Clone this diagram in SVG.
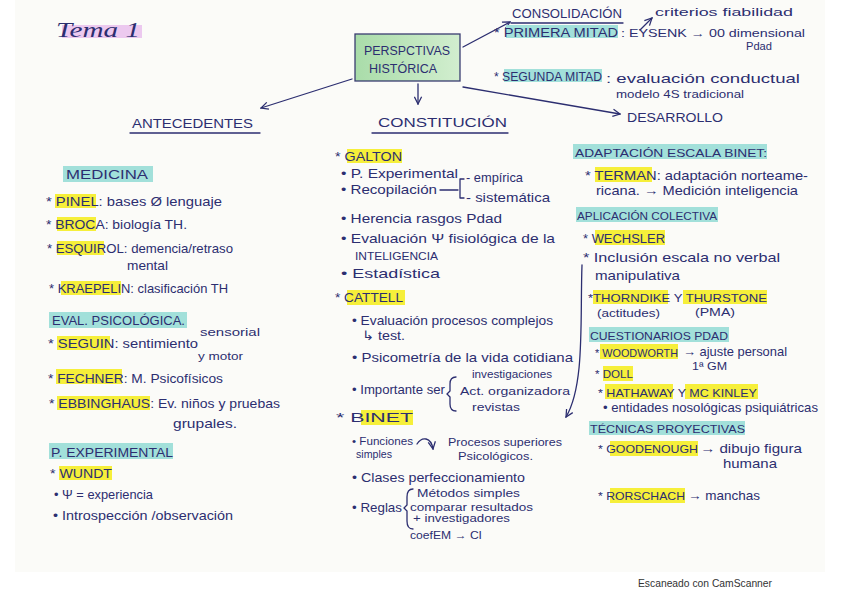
<svg xmlns="http://www.w3.org/2000/svg" width="848" height="599" viewBox="0 0 848 599">
<style>
text{font-family:"Liberation Sans","DejaVu Sans",sans-serif;fill:#2c2e70;font-size:13px}
.u{font-size:12.5px}
.s{font-size:11.5px}
.xs{font-size:10.5px}
.hy{fill:#f6ef3a}
.hc{fill:#a2e0da}
.ln{fill:none;stroke:#2c2e70;stroke-width:1.3;stroke-linecap:round}
.ar{marker-end:url(#ah)}
</style>
<defs>
<marker id="ah" viewBox="0 0 10 10" refX="9" refY="5" markerWidth="9" markerHeight="9" orient="auto" markerUnits="userSpaceOnUse">
<path d="M1,1 L9,5 L1,9" fill="none" stroke="#2c2e70" stroke-width="1.4"/>
</marker>
<linearGradient id="gb" x1="0" y1="0" x2="1" y2="0">
<stop offset="0" stop-color="#a9dca9"/><stop offset="1" stop-color="#d2eecf"/>
</linearGradient>
</defs>
<rect x="0" y="0" width="848" height="599" fill="#ffffff"/>
<rect x="15" y="0" width="810" height="572" fill="#fbfbf8"/>

<g id="title">
<rect x="62" y="25" width="80" height="13" fill="#ecc9ef"/>
<text x="56" y="37" style="font-family:'Liberation Serif',serif;font-style:italic;font-size:22px" textLength="84" lengthAdjust="spacingAndGlyphs">Tema 1</text>
</g>

<g id="perspectivas">
<rect x="355" y="34" width="105" height="47" fill="url(#gb)" stroke="#3a3c70" stroke-width="1.3"/>
<text class="u" x="364" y="55" textLength="86" lengthAdjust="spacingAndGlyphs">PERSPCTIVAS</text>
<text class="u" x="369" y="73" textLength="68" lengthAdjust="spacingAndGlyphs">HISTÓRICA</text>
</g>

<g id="connectors">
<path class="ln ar" d="M352,79 L261,108"/>
<path class="ln ar" d="M418,84 L418,104"/>
<path class="ln ar" d="M463,87 L620,114"/>
<path class="ln ar" d="M463,47 L510,22"/>
<path class="ln ar" d="M640,30 L652,18"/>
<path class="ln ar" d="M582,265 C580,320 585,385 566,417"/>
<path class="ln ar" d="M417,444 C422,436 431,437 433,449"/>
</g>

<g id="consolidacion">
<text class="u" x="512" y="18" textLength="110" lengthAdjust="spacingAndGlyphs">CONSOLIDACIÓN</text>
<path class="ln" d="M511,23 H623"/>
<text class="s" x="655" y="16" textLength="138" lengthAdjust="spacingAndGlyphs">criterios fiabilidad</text>
<rect class="hc" x="506" y="25" width="112" height="13"/>
<text class="u" x="494" y="37" textLength="124" lengthAdjust="spacingAndGlyphs">* PRIMERA MITAD</text>
<text class="s" x="621" y="37" textLength="184" lengthAdjust="spacingAndGlyphs">: EYSENK → 00 dimensional</text>
<text class="s" x="746" y="50" textLength="26" lengthAdjust="spacingAndGlyphs">Pdad</text>
<rect class="hc" x="504" y="69" width="98" height="13"/>
<text class="u" x="494" y="81" textLength="108" lengthAdjust="spacingAndGlyphs">* SEGUNDA MITAD</text>
<text x="606" y="83" textLength="194" lengthAdjust="spacingAndGlyphs">: evaluación conductual</text>
<text class="s" x="616" y="98" textLength="128" lengthAdjust="spacingAndGlyphs">modelo 4S tradicional</text>
</g>

<g id="antecedentes">
<text class="u" x="132" y="128" textLength="121" lengthAdjust="spacingAndGlyphs">ANTECEDENTES</text>
<path class="ln" d="M130,133 H260"/>
<rect class="hc" x="63" y="166" width="90" height="16"/>
<text class="u" x="66" y="179" textLength="82" lengthAdjust="spacingAndGlyphs">MEDICINA</text>
<rect class="hy" x="55" y="194" width="41" height="14"/>
<text x="46" y="206" textLength="176" lengthAdjust="spacingAndGlyphs">* PINEL: bases Ø lenguaje</text>
<rect class="hy" x="57" y="217" width="39" height="14"/>
<text x="46" y="229" textLength="141" lengthAdjust="spacingAndGlyphs">* BROCA: biología TH.</text>
<rect class="hy" x="57" y="241" width="47" height="14"/>
<text x="47" y="253" textLength="186" lengthAdjust="spacingAndGlyphs">* ESQUIROL: demencia/retraso</text>
<text x="127" y="270" textLength="41" lengthAdjust="spacingAndGlyphs">mental</text>
<rect class="hy" x="61" y="281" width="60" height="14"/>
<text x="49" y="293" textLength="179" lengthAdjust="spacingAndGlyphs">* KRAEPELIN: clasificación TH</text>
<rect class="hc" x="49" y="312" width="138" height="16"/>
<text class="u" x="52" y="325" textLength="133" lengthAdjust="spacingAndGlyphs">EVAL. PSICOLÓGICA.</text>
<rect class="hy" x="57" y="336" width="53" height="14"/>
<text x="48" y="348" textLength="150" lengthAdjust="spacingAndGlyphs">* SEGUIN: sentimiento</text>
<text class="s" x="200" y="336" textLength="60" lengthAdjust="spacingAndGlyphs">sensorial</text>
<text class="s" x="198" y="360" textLength="45" lengthAdjust="spacingAndGlyphs">y motor</text>
<rect class="hy" x="56" y="369" width="66" height="15"/>
<text x="48" y="383" textLength="175" lengthAdjust="spacingAndGlyphs">* FECHNER: M. Psicofísicos</text>
<rect class="hy" x="57" y="396" width="93" height="14"/>
<text x="49" y="408" textLength="231" lengthAdjust="spacingAndGlyphs">* EBBINGHAUS: Ev. niños y pruebas</text>
<text x="173" y="428" textLength="64" lengthAdjust="spacingAndGlyphs">grupales.</text>
<rect class="hc" x="49" y="443" width="124" height="16"/>
<text class="u" x="51" y="457" textLength="122" lengthAdjust="spacingAndGlyphs">P. EXPERIMENTAL</text>
<rect class="hy" x="59" y="466" width="53" height="14"/>
<text class="u" x="50" y="478" textLength="62" lengthAdjust="spacingAndGlyphs">* WUNDT</text>
<text x="54" y="499" textLength="99" lengthAdjust="spacingAndGlyphs">• Ψ = experiencia</text>
<text x="53" y="520" textLength="180" lengthAdjust="spacingAndGlyphs">• Introspección /observación</text>
</g>

<g id="constitucion">
<text class="u" x="378" y="127" textLength="129" lengthAdjust="spacingAndGlyphs">CONSTITUCIÓN</text>
<path class="ln" d="M372,133 H508"/>
<rect class="hy" x="347" y="149" width="55" height="14"/>
<text class="u" x="335" y="161" textLength="67" lengthAdjust="spacingAndGlyphs">* GALTON</text>
<text x="341" y="178" textLength="117" lengthAdjust="spacingAndGlyphs">• P. Experimental</text>
<text x="466" y="182" textLength="57" lengthAdjust="spacingAndGlyphs">- empírica</text>
<text x="341" y="194" textLength="96" lengthAdjust="spacingAndGlyphs">• Recopilación</text>
<path class="ln" d="M440,190 H458 M460,179 V198 M460,179 H464 M460,198 H464"/>
<text x="466" y="202" textLength="84" lengthAdjust="spacingAndGlyphs">- sistemática</text>
<text x="341" y="223" textLength="161" lengthAdjust="spacingAndGlyphs">• Herencia rasgos Pdad</text>
<text x="341" y="243" textLength="214" lengthAdjust="spacingAndGlyphs">• Evaluación Ψ fisiológica de la</text>
<text class="s" x="355" y="260" textLength="83" lengthAdjust="spacingAndGlyphs">INTELIGENCIA</text>
<text x="341" y="278" textLength="99" lengthAdjust="spacingAndGlyphs">• Estadística</text>
<rect class="hy" x="347" y="290" width="58" height="15"/>
<text class="u" x="335" y="302" textLength="68" lengthAdjust="spacingAndGlyphs">* CATTELL</text>
<text x="352" y="325" textLength="201" lengthAdjust="spacingAndGlyphs">• Evaluación procesos complejos</text>
<text x="362" y="340" textLength="43" lengthAdjust="spacingAndGlyphs">↳ test.</text>
<text x="352" y="362" textLength="221" lengthAdjust="spacingAndGlyphs">• Psicometría de la vida cotidiana</text>
<text x="352" y="394" textLength="93" lengthAdjust="spacingAndGlyphs">• Importante ser</text>
<path class="ln" d="M456,377 Q450,377 450,384 V391 L447,394 L450,397 V404 Q450,411 456,411"/>
<text class="s" x="472" y="378" textLength="80" lengthAdjust="spacingAndGlyphs">investigaciones</text>
<text class="s" x="460" y="395" textLength="110" lengthAdjust="spacingAndGlyphs">Act. organizadora</text>
<text class="s" x="472" y="411" textLength="48" lengthAdjust="spacingAndGlyphs">revistas</text>
<rect class="hy" x="361" y="410" width="52" height="15"/>
<text class="u" x="336" y="422" textLength="77" lengthAdjust="spacingAndGlyphs">*   BINET</text>
<text class="xs" x="352" y="445" textLength="61" lengthAdjust="spacingAndGlyphs">• Funciones</text>
<text class="xs" x="356" y="458" textLength="36" lengthAdjust="spacingAndGlyphs">simples</text>
<text class="s" x="448" y="446" textLength="114" lengthAdjust="spacingAndGlyphs">Procesos superiores</text>
<text class="s" x="458" y="460" textLength="75" lengthAdjust="spacingAndGlyphs">Psicológicos.</text>
<text x="352" y="482" textLength="173" lengthAdjust="spacingAndGlyphs">• Clases perfeccionamiento</text>
<text class="s" x="417" y="497" textLength="103" lengthAdjust="spacingAndGlyphs">Métodos simples</text>
<text x="352" y="512" textLength="50" lengthAdjust="spacingAndGlyphs">• Reglas</text>
<path class="ln" d="M413,489 Q407,489 407,497 V505 L404,508 L407,511 V521 Q407,529 413,529"/>
<text class="s" x="410" y="511" textLength="123" lengthAdjust="spacingAndGlyphs">comparar resultados</text>
<text class="s" x="413" y="522" textLength="97" lengthAdjust="spacingAndGlyphs">+ investigadores</text>
<text class="s" x="410" y="539" textLength="72" lengthAdjust="spacingAndGlyphs">coefEM → CI</text>
</g>

<g id="desarrollo">
<text x="627" y="122" textLength="96" lengthAdjust="spacingAndGlyphs">DESARROLLO</text>
<rect class="hc" x="573" y="144" width="194" height="15"/>
<text class="s" x="575" y="157" textLength="192" lengthAdjust="spacingAndGlyphs">ADAPTACIÓN ESCALA BINET:</text>
<rect class="hy" x="595" y="167" width="57" height="15"/>
<text x="585" y="180" textLength="223" lengthAdjust="spacingAndGlyphs">* TERMAN: adaptación norteame-</text>
<text x="596" y="195" textLength="202" lengthAdjust="spacingAndGlyphs">ricana. → Medición inteligencia</text>
<rect class="hc" x="576" y="207" width="142" height="15"/>
<text class="s" x="577" y="220" textLength="140" lengthAdjust="spacingAndGlyphs">APLICACIÓN COLECTIVA</text>
<rect class="hy" x="595" y="230" width="70" height="15"/>
<text class="u" x="583" y="243" textLength="82" lengthAdjust="spacingAndGlyphs">* WECHSLER</text>
<text x="583" y="262" textLength="197" lengthAdjust="spacingAndGlyphs">* Inclusión escala no verbal</text>
<text x="595" y="280" textLength="85" lengthAdjust="spacingAndGlyphs">manipulativa</text>
<rect class="hy" x="593" y="290" width="75" height="14"/>
<rect class="hy" x="683" y="290" width="84" height="14"/>
<text class="s" x="588" y="302" textLength="179" lengthAdjust="spacingAndGlyphs">*THORNDIKE Y THURSTONE</text>
<text class="xs" x="597" y="317" textLength="63" lengthAdjust="spacingAndGlyphs">(actitudes)</text>
<text class="xs" x="695" y="316" textLength="40" lengthAdjust="spacingAndGlyphs">(PMA)</text>
<rect class="hc" x="589" y="327" width="140" height="15"/>
<text class="s" x="590" y="340" textLength="138" lengthAdjust="spacingAndGlyphs">CUESTIONARIOS PDAD</text>
<rect class="hy" x="600" y="344" width="78" height="15"/>
<text class="s" x="595" y="357" textLength="83" lengthAdjust="spacingAndGlyphs">* WOODWORTH</text>
<text x="683" y="356" textLength="104" lengthAdjust="spacingAndGlyphs">→ ajuste personal</text>
<text class="s" x="692" y="370" textLength="35" lengthAdjust="spacingAndGlyphs">1ª GM</text>
<rect class="hy" x="603" y="366" width="30" height="15"/>
<text class="s" x="595" y="378" textLength="38" lengthAdjust="spacingAndGlyphs">* DOLL</text>
<rect class="hy" x="605" y="384" width="68" height="15"/>
<rect class="hy" x="685" y="384" width="73" height="15"/>
<text class="s" x="598" y="397" textLength="159" lengthAdjust="spacingAndGlyphs">* HATHAWAY Y MC KINLEY</text>
<text x="603" y="412" textLength="215" lengthAdjust="spacingAndGlyphs">• entidades nosológicas psiquiátricas</text>
<rect class="hc" x="589" y="421" width="156" height="14"/>
<text class="s" x="590" y="433" textLength="155" lengthAdjust="spacingAndGlyphs">TÉCNICAS PROYECTIVAS</text>
<rect class="hy" x="610" y="441" width="88" height="15"/>
<text class="s" x="598" y="453" textLength="100" lengthAdjust="spacingAndGlyphs">* GOODENOUGH</text>
<text x="700" y="453" textLength="102" lengthAdjust="spacingAndGlyphs">→ dibujo figura</text>
<text x="723" y="468" textLength="54" lengthAdjust="spacingAndGlyphs">humana</text>
<rect class="hy" x="610" y="488" width="75" height="15"/>
<text class="s" x="598" y="500" textLength="87" lengthAdjust="spacingAndGlyphs">* RORSCHACH</text>
<text x="688" y="500" textLength="72" lengthAdjust="spacingAndGlyphs">→ manchas</text>
</g>

<text x="638" y="587" style="font-size:11px;fill:#333333" textLength="134" lengthAdjust="spacingAndGlyphs">Escaneado con CamScanner</text>
</svg>
